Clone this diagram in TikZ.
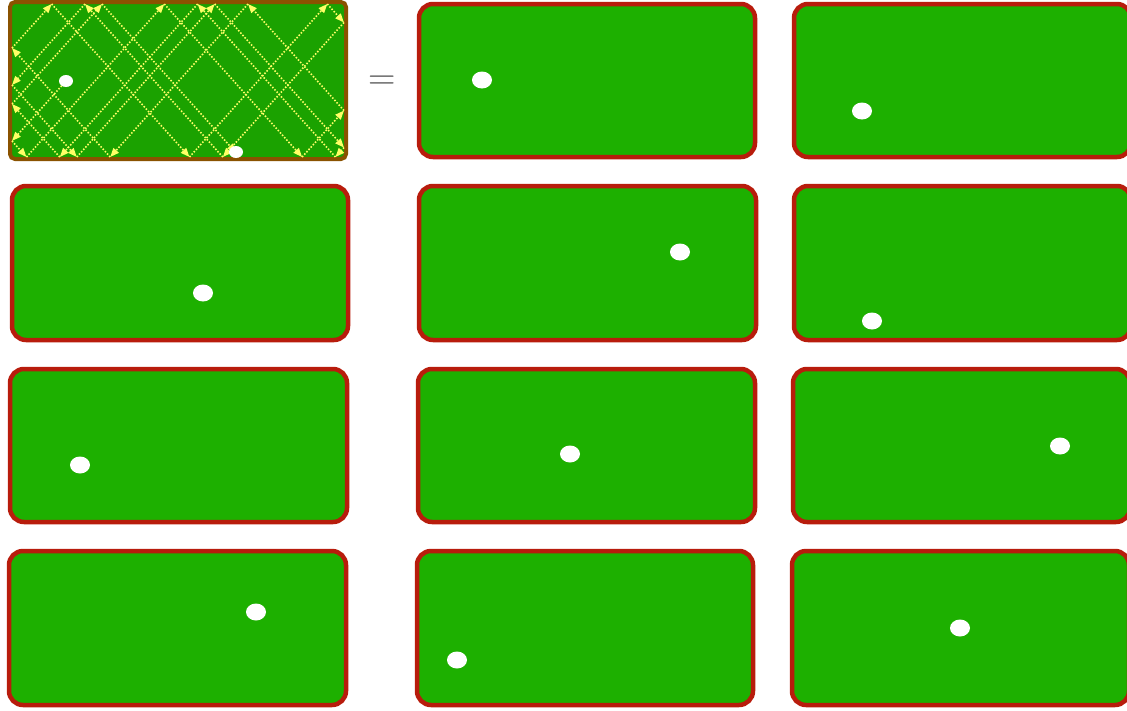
\documentclass[tikz,border=0pt]{standalone}
\usetikzlibrary{arrows.meta}
\definecolor{felt}{HTML}{1DB000}
\definecolor{cushion}{HTML}{B81C0C}
\definecolor{wood}{HTML}{8A5200}
\definecolor{trailc}{HTML}{FFFF66}
\definecolor{eqgray}{HTML}{555555}
\tikzset{
  table/.style={draw=cushion, line width=4.5pt, fill=felt, rounded corners=14pt},
  maintable/.style={draw=wood, line width=4pt, fill=felt!92!black, rounded corners=5pt},
  ball/.style={fill=white, draw=none},
  trail/.style={draw=trailc, dash pattern=on 1.5pt off 1.7pt, line width=1.6pt, -{Triangle[length=9pt,width=7pt,fill=trailc]}},
}
\begin{document}
\begin{tikzpicture}[x=1pt,y=-1pt]
\useasboundingbox (0,0) rectangle (1127,710);
\clip (0,0) rectangle (1127,710);
% first table with trajectory
\draw[maintable] (10,2) rectangle (346,159);
\begin{scope}[shift={(12,4)}]
  \xdef\bpx{54}\xdef\bpy{77}\xdef\bvx{-1}\xdef\bvy{1.11}\xdef\brem{2270}
  \foreach \i in {1,...,30}{
    \ifdim\brem pt>0.05pt
      \pgfmathsetmacro\btx{(\bvx>0) ? (332-\bpx)/abs(\bvx) : \bpx/abs(\bvx)}
      \pgfmathsetmacro\bty{(\bvy>0) ? (153-\bpy)/abs(\bvy) : \bpy/abs(\bvy)}
      \pgfmathsetmacro\btt{min(\btx,\bty,\brem)}
      \pgfmathsetmacro\bnx{max(0,min(332,\bpx+\bvx*\btt))}
      \pgfmathsetmacro\bny{max(0,min(153,\bpy+\bvy*\btt))}
      \draw[trail] (\bpx,\bpy) -- (\bnx,\bny);
      \pgfmathsetmacro\bfx{(\btx<=\btt+0.01) ? -1 : 1}
      \pgfmathsetmacro\bfy{(\bty<=\btt+0.01) ? -1 : 1}
      \pgfmathsetmacro\bnvx{\bvx*(\bfx)}
      \pgfmathsetmacro\bnvy{\bvy*(\bfy)}
      \pgfmathsetmacro\bnrem{\brem-\btt}
      \xdef\bpx{\bnx}\xdef\bpy{\bny}\xdef\bvx{\bnvx}\xdef\bvy{\bnvy}\xdef\brem{\bnrem}
    \fi
  }
\end{scope}
\fill[ball] (66,81) ellipse (7 and 6);
\fill[ball] (236,152) ellipse (7 and 6);
\node[text=eqgray, font=\fontsize{38}{40}\selectfont] (eq) at (382,83) {=};
% other tables
\draw[table] (419,4) rectangle (755,157);
\draw[table] (794,4) rectangle (1131,157);
\draw[table] (12,186) rectangle (348,340);
\draw[table] (419,186) rectangle (756,340);
\draw[table] (794,186) rectangle (1131,340);
\draw[table] (10,369) rectangle (347,522);
\draw[table] (418,369) rectangle (755,522);
\draw[table] (793,369) rectangle (1130,522);
\draw[table] (9,551) rectangle (346,705);
\draw[table] (417,551) rectangle (753,705);
\draw[table] (792,551) rectangle (1129,705);
% balls
\fill[ball] (482,80) ellipse (10 and 8.5);
\fill[ball] (862,111) ellipse (10 and 8.5);
\fill[ball] (203,293) ellipse (10 and 8.5);
\fill[ball] (680,252) ellipse (10 and 8.5);
\fill[ball] (872,321) ellipse (10 and 8.5);
\fill[ball] (80,465) ellipse (10 and 8.5);
\fill[ball] (570,454) ellipse (10 and 8.5);
\fill[ball] (1060,446) ellipse (10 and 8.5);
\fill[ball] (256,612) ellipse (10 and 8.5);
\fill[ball] (457,660) ellipse (10 and 8.5);
\fill[ball] (960,628) ellipse (10 and 8.5);
\end{tikzpicture}
\end{document}
